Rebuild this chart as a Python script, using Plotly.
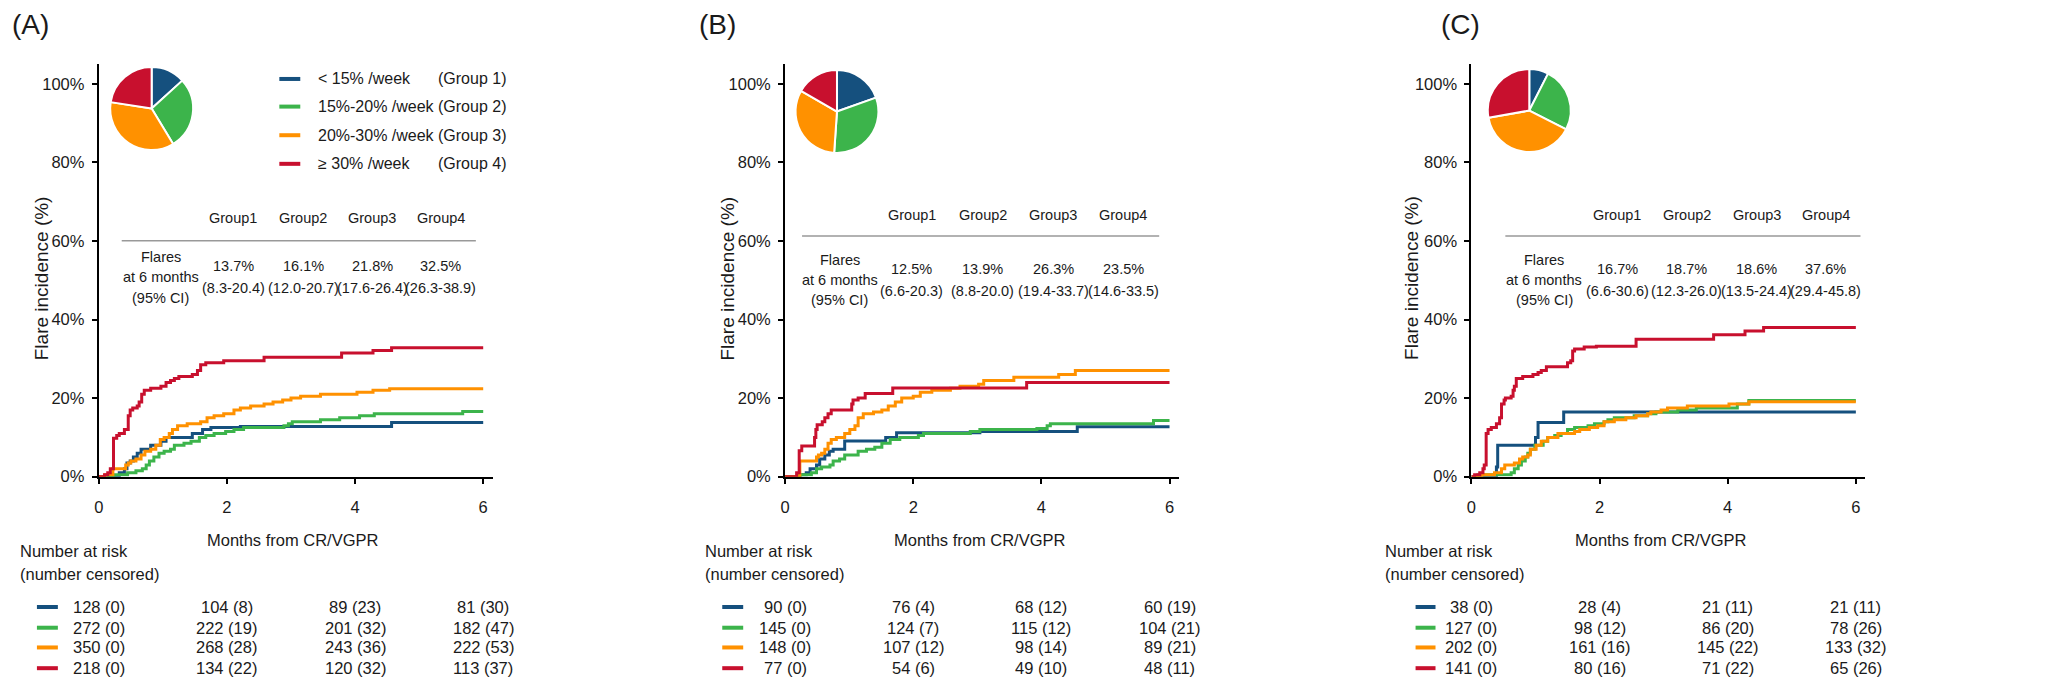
import plotly.graph_objects as go

W, H = 2056, 691


def px(x):
    return x / W


def py(y):
    return 1 - y / H


COLORS = ["#15507E", "#3CB44B", "#FF9100", "#C8102E"]
FONT = "Liberation Sans, Arial, sans-serif"
TXT = "#1a1a1a"

# ---------------- data ----------------
panel_letters = ["(A)", "(B)", "(C)"]
legend_labels = ["< 15% /week", "15%-20% /week", "20%-30% /week", "≥ 30% /week"]
legend_groups = ["(Group 1)", "(Group 2)", "(Group 3)", "(Group 4)"]
table_headers = ["Group1", "Group2", "Group3", "Group4"]
flare_label = ["Flares", "at 6 months", "(95% CI)"]

a_flare_pct = ["13.7%", "16.1%", "21.8%", "32.5%"]
a_flare_ci = ["(8.3-20.4)", "(12.0-20.7)", "(17.6-26.4)", "(26.3-38.9)"]
b_flare_pct = ["12.5%", "13.9%", "26.3%", "23.5%"]
b_flare_ci = ["(6.6-20.3)", "(8.8-20.0)", "(19.4-33.7)", "(14.6-33.5)"]
c_flare_pct = ["16.7%", "18.7%", "18.6%", "37.6%"]
c_flare_ci = ["(6.6-30.6)", "(12.3-26.0)", "(13.5-24.4)", "(29.4-45.8)"]

# group sizes at time 0 (pie slices)
a_n0 = [128, 272, 350, 218]
b_n0 = [90, 145, 148, 77]
c_n0 = [38, 127, 202, 141]

risk_times = [0, 2, 4, 6]
a_risk = [["128 (0)", "104 (8)", "89 (23)", "81 (30)"],
          ["272 (0)", "222 (19)", "201 (32)", "182 (47)"],
          ["350 (0)", "268 (28)", "243 (36)", "222 (53)"],
          ["218 (0)", "134 (22)", "120 (32)", "113 (37)"]]
b_risk = [["90 (0)", "76 (4)", "68 (12)", "60 (19)"],
          ["145 (0)", "124 (7)", "115 (12)", "104 (21)"],
          ["148 (0)", "107 (12)", "98 (14)", "89 (21)"],
          ["77 (0)", "54 (6)", "49 (10)", "48 (11)"]]
c_risk = [["38 (0)", "28 (4)", "21 (11)", "21 (11)"],
          ["127 (0)", "98 (12)", "86 (20)", "78 (26)"],
          ["202 (0)", "161 (16)", "145 (22)", "133 (32)"],
          ["141 (0)", "80 (16)", "71 (22)", "65 (26)"]]

# cumulative incidence step curves (months, %)
a1_t = [0, 0.32, 0.40, 0.44, 0.49, 0.54, 0.60, 0.66, 0.81, 0.97, 1.05, 1.46, 1.62, 1.75, 2.21, 4.57, 6.0]
a1_y = [0, 1, 2, 3.5, 4, 5, 6, 7, 8, 9, 10, 11, 12, 12.5, 12.8, 13.8, 13.8]
a2_t = [0, 0.24, 0.45, 0.58, 0.68, 0.74, 0.79, 0.86, 0.94, 1.02, 1.12, 1.18, 1.33, 1.44, 1.57, 1.67, 1.80,
        1.98, 2.11, 2.26, 2.89, 2.96, 3.02, 3.46, 3.76, 4.07, 4.30, 5.68, 6.0]
a2_y = [0, 0.5, 1, 1.5, 2, 3, 4, 5, 6, 6.5, 7, 8, 8.5, 9, 10, 10.5, 11, 11.5, 12, 12.5, 13, 13.5, 14, 14.5,
        15, 15.5, 16, 16.6, 16.6]
a3_t = [0, 0.10, 0.22, 0.42, 0.46, 0.50, 0.58, 0.66, 0.72, 0.81, 0.89, 0.96, 1.02, 1.10, 1.15, 1.23, 1.38,
        1.59, 1.69, 1.80, 1.95, 2.11, 2.21, 2.37, 2.58, 2.72, 2.87, 3.00, 3.15, 3.46, 4.03, 4.28, 4.54, 6.0]
a3_y = [0, 0.5, 2, 3, 3.5, 4, 4.5, 5.5, 6.5, 7, 8, 9.5, 10, 11, 12, 13, 13.5, 14, 15, 15.5, 16, 17, 17.5,
        18, 18.5, 19, 19.5, 20, 20.5, 21, 21.5, 22, 22.4, 22.4]
a4_t = [0, 0.09, 0.14, 0.18, 0.23, 0.28, 0.32, 0.40, 0.46, 0.49, 0.53, 0.60, 0.63, 0.67, 0.71, 0.81, 0.97,
        1.05, 1.12, 1.18, 1.25, 1.46, 1.54, 1.59, 1.67, 1.95, 2.58, 3.79, 4.28, 4.57, 6.0]
a4_y = [0, 0.5, 1, 2, 9.8, 10.5, 11, 12, 15.5, 17, 17.5, 18, 19, 21, 22, 22.5, 23, 24, 24.5, 25, 25.5, 26,
        27, 28.5, 29, 29.5, 30.4, 31.5, 32.1, 32.8, 32.8]

b1_t = [0, 0.23, 0.33, 0.39, 0.49, 0.54, 0.62, 0.69, 0.75, 0.93, 1.57, 1.74, 3.04, 4.56, 6.0]
b1_y = [0, 0.5, 1, 2, 3, 4.5, 5.5, 6.5, 7, 9.1, 10, 11.2, 11.5, 12.7, 12.7]
b2_t = [0, 0.23, 0.41, 0.49, 0.57, 0.70, 0.75, 0.85, 0.93, 1.14, 1.27, 1.40, 1.51, 1.64, 1.79, 2.08, 2.16,
        2.89, 3.04, 3.93, 4.09, 4.14, 5.75, 6.0]
b2_y = [0, 0.5, 1, 2, 2.5, 3, 4, 4.5, 5.5, 6.5, 7, 7.5, 8.5, 9.5, 10, 10.5, 11, 11.5, 12, 12.3, 13, 13.5,
        14.3, 14.3]
b3_t = [0, 0.23, 0.49, 0.52, 0.57, 0.62, 0.67, 0.72, 0.80, 0.93, 1.01, 1.09, 1.14, 1.22, 1.38, 1.51, 1.61,
        1.72, 1.82, 2.00, 2.11, 2.29, 2.58, 2.73, 3.02, 3.10, 3.57, 4.27, 4.53, 6.0]
b3_y = [0, 4, 5, 5.5, 6, 7, 8.5, 9.5, 10, 11, 12, 13, 15, 16, 16.5, 17, 18, 19, 20, 20.5, 21.5, 22, 22.5,
        23, 23.5, 24.5, 25.3, 26, 27, 27]
b4_t = [0, 0.18, 0.22, 0.26, 0.46, 0.48, 0.50, 0.58, 0.62, 0.67, 0.72, 1.04, 1.06, 1.14, 1.25, 1.68, 3.77, 6.0]
b4_y = [0, 1, 6.6, 7.8, 10, 12, 13.2, 14, 15, 16, 17, 18.5, 19.5, 20, 21.2, 22.6, 24, 24]

c1_t = [0, 0.39, 0.41, 1.00, 1.04, 1.44, 6.0]
c1_y = [0, 2.5, 8, 10, 13.8, 16.5, 16.5]
c2_t = [0, 0.10, 0.62, 0.67, 0.73, 0.78, 0.84, 0.88, 0.92, 0.99, 1.12, 1.19, 1.30, 1.40, 1.50, 1.61, 1.82,
        1.92, 2.07, 2.13, 2.23, 2.54, 2.75, 2.88, 3.22, 3.51, 4.15, 4.33, 6.0]
c2_y = [0, 0.5, 1, 2, 3, 4, 5, 6, 7, 8, 9, 10, 10.5, 11, 12, 12.5, 13, 13.5, 14, 14.5, 15, 15.5, 16, 16.5,
        17, 17.5, 18.5, 19.4, 19.4]
c3_t = [0, 0.16, 0.36, 0.47, 0.52, 0.67, 0.75, 0.80, 0.88, 0.92, 1.01, 1.09, 1.19, 1.35, 1.61, 1.69, 1.84,
        1.97, 2.07, 2.23, 2.41, 2.57, 2.75, 2.80, 2.96, 3.06, 3.37, 4.02, 4.33, 6.0]
c3_y = [0, 0.5, 1, 2, 3, 3.5, 4.5, 5, 5.5, 7, 8, 9, 10, 11, 11.5, 12, 12.5, 13, 14, 14.5, 15, 15.5, 16,
        16.5, 17, 17.5, 18, 18.5, 19.1, 19.1]
c4_t = [0, 0.05, 0.13, 0.18, 0.20, 0.23, 0.26, 0.31, 0.39, 0.44, 0.47, 0.51, 0.53, 0.62, 0.65, 0.67, 0.70,
        0.80, 0.96, 1.04, 1.09, 1.17, 1.50, 1.55, 1.58, 1.61, 1.76, 1.95, 2.57, 3.78, 4.27, 4.56, 6.0]
c4_y = [0, 0.5, 1, 2, 3, 11, 12, 12.5, 13.5, 15, 18.5, 19.5, 20, 20.5, 22, 23, 25, 25.5, 26, 26.5, 27, 28,
        29, 29.5, 32, 32.5, 33, 33.2, 35, 36.1, 37.1, 38, 38]

y_ticks = [0, 20, 40, 60, 80, 100]
y_ticktext = ["0%", "20%", "40%", "60%", "80%", "100%"]
x_ticks = [0, 2, 4, 6]
x_title = "Months from CR/VGPR"
y_title = "Flare incidence (%)"
risk_title = ["Number at risk", "(number censored)"]

# ---------------- layout geometry (pixels) ----------------
panels = [
    dict(letter_x=26, ax_l=94, ax_r=489, pie_c=(147, 110), xt_x=289, yt_x=36,
         head_y=221, cols=[229, 299, 368, 437], line=(117, 472, 244), fl_x=156, fl_y=[260, 281, 302],
         v1=270, v2=292, risk_lbl=13, sw=(32, 53),
         curves=[(a1_t, a1_y), (a2_t, a2_y), (a3_t, a3_y), (a4_t, a4_y)],
         n0=a_n0, pct=a_flare_pct, ci=a_flare_ci, risk=a_risk),
    dict(letter_x=714, ax_l=782, ax_r=1177, pie_c=(834, 113), xt_x=977, yt_x=724,
         head_y=218, cols=[909, 980, 1051, 1121], line=(799, 1157, 239), fl_x=837, fl_y=[263, 284, 304],
         v1=273, v2=295, risk_lbl=700, sw=(719, 740),
         curves=[(b1_t, b1_y), (b2_t, b2_y), (b3_t, b3_y), (b4_t, b4_y)],
         n0=b_n0, pct=b_flare_pct, ci=b_flare_ci, risk=b_risk),
    dict(letter_x=1459, ax_l=1470, ax_r=1865, pie_c=(1528, 112), xt_x=1660, yt_x=1410,
         head_y=218, cols=[1616, 1686, 1756, 1825], line=(1504, 1860, 239), fl_x=1543, fl_y=[263, 284, 304],
         v1=273, v2=295, risk_lbl=1381, sw=(1414, 1434),
         curves=[(c1_t, c1_y), (c2_t, c2_y), (c3_t, c3_y), (c4_t, c4_y)],
         n0=c_n0, pct=c_flare_pct, ci=c_flare_ci, risk=c_risk),
]
Y_TOP, Y_BOT = 65, 483
RISK_ROWS = [615, 636, 656, 677]
PIE_D = 84
FS = 16.5      # general horizontal text
FS_LEG = 16    # top legend text
FS_TAB = 14.5  # flare table text

fig = go.Figure()
annotations = []
shapes = []
layout_axes = {}


def ann(text, x, y, size=FS, xanchor="center", yanchor="middle", xref="paper", **kw):
    annotations.append(dict(text=text, x=x, y=y, xref=xref, yref="paper", showarrow=False,
                            xanchor=xanchor, yanchor=yanchor,
                            font=dict(family=FONT, size=size, color=TXT), **kw))


for i, p in enumerate(panels):
    sfx = "" if i == 0 else str(i + 1)
    xa, ya = "x" + sfx, "y" + sfx
    for g, (t, y) in enumerate(p["curves"]):
        fig.add_trace(go.Scatter(x=t, y=y, mode="lines", xaxis=xa, yaxis=ya,
                                 line=dict(color=COLORS[g], width=3, shape="hv"),
                                 showlegend=False, hoverinfo="skip"))
    axis_common = dict(showline=True, linecolor="black", linewidth=2, ticks="outside",
                       ticklen=5, tickwidth=2, tickcolor="black", showgrid=False, zeroline=False,
                       tickfont=dict(family=FONT, size=FS, color=TXT))
    layout_axes["xaxis" + sfx] = dict(axis_common, domain=[px(p["ax_l"]), px(p["ax_r"])], range=[0, 6.15],
                                      tickvals=x_ticks, anchor=ya, ticklabelstandoff=9)
    layout_axes["yaxis" + sfx] = dict(axis_common, domain=[py(Y_BOT), py(Y_TOP)], range=[0, 105],
                                      tickvals=y_ticks, ticktext=y_ticktext, anchor=xa,
                                      ticklabelstandoff=4)
    # pie of group sizes
    cx, cy = p["pie_c"]
    fig.add_trace(go.Pie(values=p["n0"], marker=dict(colors=COLORS, line=dict(color="white", width=2)),
                         sort=False, direction="clockwise", rotation=0, textinfo="none",
                         hoverinfo="skip", showlegend=False,
                         domain=dict(x=[px(cx - PIE_D / 2), px(cx + PIE_D / 2)],
                                     y=[py(cy + PIE_D / 2), py(cy - PIE_D / 2)])))
    # panel letter
    ann(panel_letters[i], px(p["letter_x"]), py(25), size=28)
    # axis titles
    ann(x_title, px(p["xt_x"]), py(547), size=FS)
    ann(y_title, px(p["yt_x"]), py((Y_TOP + Y_BOT) / 2 + 8), size=19, textangle=-90)
    # flare table
    for k in range(4):
        ann(table_headers[k], px(p["cols"][k]), py(p["head_y"]), size=FS_TAB)
        ann(p["pct"][k], px(p["cols"][k]), py(p["v1"]), size=FS_TAB)
        ann(p["ci"][k], px(p["cols"][k]), py(p["v2"]), size=FS_TAB)
    for li, txt in enumerate(flare_label):
        ann(txt, px(p["fl_x"]), py(p["fl_y"][li]), size=FS_TAB)
    x0, x1, yl = p["line"]
    shapes.append(dict(type="line", xref="paper", yref="paper", x0=px(x0), x1=px(x1), y0=py(yl), y1=py(yl),
                       line=dict(color="#999999", width=1.5)))
    # number at risk
    ann(risk_title[0], px(p["risk_lbl"]), py(558), xanchor="left")
    ann(risk_title[1], px(p["risk_lbl"]), py(582), xanchor="left")
    for g in range(4):
        shapes.append(dict(type="line", xref="paper", yref="paper", x0=px(p["sw"][0]), x1=px(p["sw"][1]),
                           y0=py(RISK_ROWS[g]), y1=py(RISK_ROWS[g]), line=dict(color=COLORS[g], width=4)))
        for k, tt in enumerate(risk_times):
            ann(p["risk"][g][k], tt, py(RISK_ROWS[g]), xref=xa)

# legend (panel A)
leg_rows = [80, 108, 137, 166]
for g in range(4):
    shapes.append(dict(type="line", xref="paper", yref="paper", x0=px(275), x1=px(296),
                       y0=py(leg_rows[g]), y1=py(leg_rows[g]), line=dict(color=COLORS[g], width=4)))
    ann(legend_labels[g], px(312), py(leg_rows[g]), size=FS_LEG, xanchor="left")
    ann(legend_groups[g], px(432), py(leg_rows[g]), size=FS_LEG, xanchor="left")

fig.update_layout(width=W, height=H, autosize=False, margin=dict(l=0, r=0, t=0, b=0),
                  paper_bgcolor="white", plot_bgcolor="white", showlegend=False,
                  annotations=annotations, shapes=shapes, font=dict(family=FONT, color=TXT),
                  **layout_axes)

fig.write_html("out.html", config={"displayModeBar": False},
               post_script="document.body.style.margin='0';document.body.style.overflow='hidden';")
